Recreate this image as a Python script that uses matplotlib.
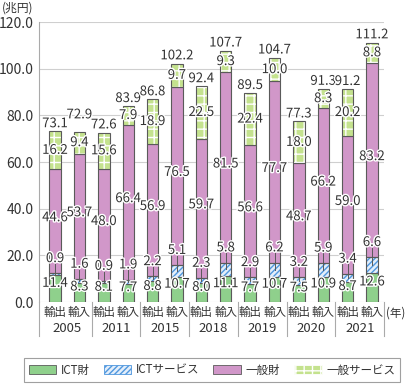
import matplotlib
matplotlib.use('Agg')
import matplotlib.pyplot as plt
import matplotlib.patheffects as pe
from matplotlib.patches import Patch
from matplotlib.ticker import FormatStrFormatter
import numpy as np

plt.rcParams['font.family'] = ['Noto Sans CJK JP', 'DejaVu Sans']
plt.rcParams['hatch.linewidth'] = 1.0

# データ（輸出・輸入の順）
years = ['2005', '2011', '2015', '2018', '2019', '2020', '2021']
sides = ['輸出', '輸入']
ict_goods = [11.4, 8.3, 8.1, 7.7, 8.8, 10.7, 8.0, 11.1, 7.7, 10.7, 7.5, 10.9, 8.7, 12.6]
ict_serv = [0.9, 1.6, 0.9, 1.9, 2.2, 5.1, 2.3, 5.8, 2.9, 6.2, 3.2, 5.9, 3.4, 6.6]
gen_goods = [44.6, 53.7, 48.0, 66.4, 56.9, 76.5, 59.7, 81.5, 56.6, 77.7, 48.7, 66.2, 59.0, 83.2]
gen_serv = [16.2, 9.4, 15.6, 7.9, 18.9, 9.7, 22.5, 9.3, 22.4, 10.0, 18.0, 8.3, 20.2, 8.8]
totals = [73.1, 72.9, 72.6, 83.9, 86.8, 102.2, 92.4, 107.7, 89.5, 104.7, 77.3, 91.3, 91.2, 111.2]
legend_labels = ['ICT財', 'ICTサービス', '一般財', '一般サービス']

c_ict = '#8fd08c'
c_svc_face = '#e3eefa'
c_svc_hatch = '#4f97de'
c_gen = '#d197c9'
c_gsv = '#c4e28e'
edge = '#5a5a5a'
txt = '#333333'

fig = plt.figure(figsize=(4.07, 3.85), dpi=100)
ax = fig.add_axes([39 / 407, 83 / 385, 345 / 407, 280 / 385])

n = len(ict_goods)
x = np.arange(n)
w = 0.47

a = np.array(ict_goods)
b = np.array(ict_serv)
c = np.array(gen_goods)
d = np.array(gen_serv)

ax.bar(x, a, w, color=c_ict, edgecolor=edge, lw=0.8, zorder=3)
ax.bar(x, b, w, bottom=a, color=c_svc_face, edgecolor=c_svc_hatch, hatch='//////', lw=0, zorder=3)
ax.bar(x, b, w, bottom=a, fill=False, edgecolor=edge, lw=0.8, zorder=4)
ax.bar(x, c, w, bottom=a + b, color=c_gen, edgecolor=edge, lw=0.8, zorder=3)
ax.bar(x, d, w, bottom=a + b + c, color=c_gsv, edgecolor='white', hatch='++', lw=0, zorder=3)
ax.bar(x, d, w, bottom=a + b + c, fill=False, edgecolor=edge, lw=0.8, zorder=4)

halo = [pe.withStroke(linewidth=2, foreground='white')]
fs = 9.5
fs_jp = 8.3

def label(xx, yy, s):
    ax.text(xx, yy, s, ha='center', va='center', fontsize=fs, color=txt,
            path_effects=halo, zorder=6)

# 合計ラベルの重なり回避
total_nudge = {1: 4.0}

for i in range(n):
    label(x[i], a[i] / 2 + 2.3, f'{a[i]:.1f}')
    top = a[i] + b[i]
    ax.plot([x[i], x[i]], [a[i] + b[i] / 2, top + 4.0], color=edge, lw=0.7, zorder=5)
    label(x[i], top + 6.3, f'{b[i]:.1f}')
    label(x[i], top + c[i] / 2 + 1.5, f'{c[i]:.1f}')
    label(x[i], top + c[i] + d[i] / 2, f'{d[i]:.1f}')
    label(x[i], totals[i] + 3.3 + total_nudge.get(i, 0), f'{totals[i]:.1f}')

ax.set_xlim(-0.66, 13.49)
ax.set_ylim(0, 120)
ax.set_yticks(np.arange(0, 121, 20))
ax.yaxis.set_major_formatter(FormatStrFormatter('%.1f'))
ax.tick_params(axis='y', length=0, pad=4, labelsize=10, labelcolor=txt)
ax.set_xticks([])
ax.grid(axis='y', color='#cfcfcf', lw=0.8, zorder=0)
for s in ['top', 'right', 'bottom']:
    ax.spines[s].set_visible(False)
ax.spines['left'].set_color('#aaaaaa')
ax.spines['left'].set_linewidth(0.8)

# 横軸ラベル
trans = ax.get_xaxis_transform()
for i in range(n):
    ax.text(x[i], -0.038, sides[i % 2], transform=trans, ha='center', va='center',
            fontsize=fs_jp, color=txt)
for j, yr in enumerate(years):
    ax.text(2 * j + 0.5, -0.095, yr, transform=trans, ha='center', va='center',
            fontsize=fs, color=txt)
seps = [-0.66] + [2 * j + 1.5 for j in range(len(years) - 1)] + [13.49]
for s in seps:
    ax.plot([s, s], [0, -0.12], transform=trans, color='#aaaaaa', lw=0.8, clip_on=False)
ax.text(1.005, -0.038, '(年)', transform=ax.transAxes, ha='left', va='center',
        fontsize=fs_jp, color=txt)
fig.text(2 / 407, 1 - 2 / 385, '(兆円)', ha='left', va='top', fontsize=8.5, color=txt)

handles = [
    Patch(facecolor=c_ict, edgecolor=edge, lw=0.6),
    Patch(facecolor=c_svc_face, edgecolor=c_svc_hatch, hatch='//////', lw=0.6),
    Patch(facecolor=c_gen, edgecolor=edge, lw=0.6),
    Patch(facecolor=c_gsv, edgecolor='white', hatch='++', lw=0.6),
]
leg = fig.legend(handles, legend_labels, loc='center', ncol=4,
                 bbox_to_anchor=(212 / 407, 1 - 370 / 385), fontsize=fs_jp,
                 frameon=True, fancybox=False, edgecolor='#888888',
                 handlelength=2.4, handleheight=0.9, handletextpad=0.4,
                 columnspacing=1.2, borderpad=0.45)
for t in leg.get_texts():
    t.set_color(txt)
leg.get_frame().set_linewidth(0.8)

fig.savefig('out.png', dpi=100)
